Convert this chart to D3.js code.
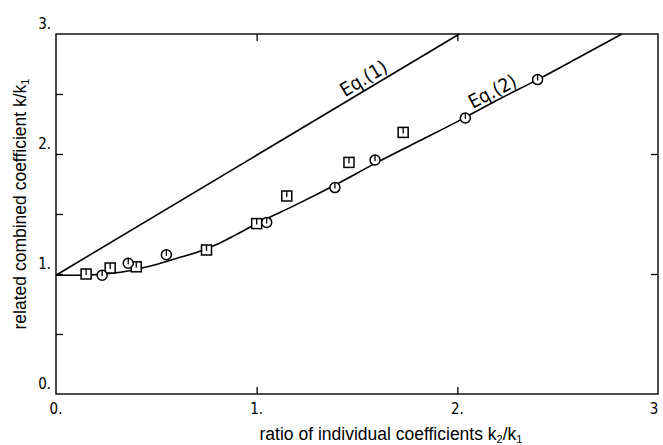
<!DOCTYPE html>
<html>
<head>
<meta charset="utf-8">
<script src="https://cdn.jsdelivr.net/npm/d3@7"></script>
<style>
  html, body { margin: 0; padding: 0; background: #fff; }
  svg { display: block; }
  .tick-label { font-family: "Liberation Sans Narrow", "DejaVu Sans Condensed", "Liberation Sans", sans-serif; font-size: 15px; fill: #000; }
  .title { font-family: "Liberation Sans", Arial, sans-serif; font-size: 17.5px; fill: #000; }
  .eq { font-family: "Liberation Sans Narrow", "DejaVu Sans Condensed", "Liberation Sans", sans-serif; font-size: 19px; fill: #000; }
</style>
</head>
<body>
<svg id="chart" width="663" height="445"></svg>
<script>
// ---- data ----
const xTickValues = [0, 1, 2, 3];
const xTickLabels = ["0.", "1.", "2.", "3"];
const yTickValues = [0, 1, 2, 3];
const yTickLabels = ["0.", "1.", "2.", "3."];
const yMinorTicks = [0.5, 1.5, 2.5];

// Eq.(1) straight line
const eq1X = [0, 2.01];
const eq1Y = [0.99, 3.0];

// Eq.(2) curve
const eq2X = [0, 0.1, 0.2, 0.3, 0.4, 0.5, 0.6, 0.7, 0.8, 0.9, 1.0, 1.2, 1.4, 1.6, 1.8, 2.0, 2.2, 2.4, 2.6, 2.82];
const eq2Y = [0.99, 0.99, 0.995, 1.01, 1.04, 1.08, 1.13, 1.18, 1.245, 1.33, 1.42, 1.58, 1.75, 1.93, 2.10, 2.27, 2.45, 2.62, 2.80, 3.0];

// measured points: squares
const squareX = [0.15, 0.27, 0.40, 0.75, 1.00, 1.15, 1.46, 1.73];
const squareY = [1.00, 1.05, 1.06, 1.20, 1.42, 1.65, 1.93, 2.18];
// measured points: circles
const circleX = [0.23, 0.36, 0.55, 1.05, 1.39, 1.59, 2.04, 2.40];
const circleY = [0.99, 1.09, 1.16, 1.43, 1.72, 1.95, 2.30, 2.62];

// ---- drawing ----
const svg = d3.select("#chart");
const mLeft = 56, mRight = 658, mTop = 34, mBottom = 394;
const x = d3.scaleLinear().domain([0, 3]).range([mLeft, mRight]);
const y = d3.scaleLinear().domain([0, 3]).range([mBottom, mTop]);

const ink = "#000";

// frame
svg.append("rect")
  .attr("x", mLeft).attr("y", mTop)
  .attr("width", mRight - mLeft).attr("height", mBottom - mTop)
  .attr("fill", "none").attr("stroke", ink).attr("stroke-width", 1.4);

// axes via d3 (ticks inward, no domain path)
const tickLen = 7;
const gBottom = svg.append("g").attr("transform", `translate(0,${mBottom})`)
  .call(d3.axisBottom(x).tickValues([1, 2]).tickSize(-tickLen).tickFormat(""));
const gTop = svg.append("g").attr("transform", `translate(0,${mTop})`)
  .call(d3.axisTop(x).tickValues([1, 2]).tickSize(-tickLen).tickFormat(""));
const gLeft = svg.append("g").attr("transform", `translate(${mLeft},0)`)
  .call(d3.axisLeft(y).tickValues([1, 2].concat(yMinorTicks)).tickSize(-tickLen).tickFormat(""));
const gRight = svg.append("g").attr("transform", `translate(${mRight},0)`)
  .call(d3.axisRight(y).tickValues([1, 2]).tickSize(-tickLen).tickFormat(""));
[gBottom, gTop, gLeft, gRight].forEach(g => {
  g.select(".domain").remove();
  g.selectAll("line").attr("stroke", ink).attr("stroke-width", 1.3);
});

// tick labels
svg.append("g").selectAll("text").data(xTickValues).join("text")
  .attr("class", "tick-label")
  .attr("x", (d, i) => x(d) + (i === xTickValues.length - 1 ? -4 : 0))
  .attr("y", mBottom + 20)
  .attr("text-anchor", "middle")
  .text((d, i) => xTickLabels[i]);

svg.append("g").selectAll("text").data(yTickValues).join("text")
  .attr("class", "tick-label")
  .attr("x", mLeft - 5)
  .attr("y", d => y(d) - 5)
  .attr("text-anchor", "end")
  .text((d, i) => yTickLabels[i]);

// axis titles
svg.append("text").attr("class", "title")
  .attr("x", 391).attr("y", 440)
  .attr("text-anchor", "middle")
  .html('ratio of individual coefficients k<tspan font-size="11" dy="3">2</tspan><tspan dy="-3">/k</tspan><tspan font-size="11" dy="3">1</tspan>');

svg.append("text").attr("class", "title")
  .attr("transform", "translate(26,204) rotate(-90)")
  .attr("text-anchor", "middle")
  .html('related combined coefficient k/k<tspan font-size="11" dy="3">1</tspan>');

// lines
const line = d3.line().x(d => x(d[0])).y(d => y(d[1]));
const lineCurve = d3.line().x(d => x(d[0])).y(d => y(d[1])).curve(d3.curveMonotoneX);

svg.append("path")
  .datum(eq1X.map((v, i) => [v, eq1Y[i]]))
  .attr("d", line).attr("fill", "none").attr("stroke", ink).attr("stroke-width", 1.6);

svg.append("path")
  .datum(eq2X.map((v, i) => [v, eq2Y[i]]))
  .attr("d", lineCurve).attr("fill", "none").attr("stroke", ink).attr("stroke-width", 1.6);

// curve labels
function slopeAngle(x1, y1, x2, y2) {
  return Math.atan2(y(y2) - y(y1), x(x2) - x(x1)) * 180 / Math.PI;
}
const a1 = slopeAngle(eq1X[0], eq1Y[0], eq1X[1], eq1Y[1]);
svg.append("text").attr("class", "eq")
  .attr("transform", `translate(${x(1.55)},${y(2.55) - 4}) rotate(${a1})`)
  .attr("text-anchor", "middle")
  .text("Eq.(1)");

const a2 = slopeAngle(2.0, 2.27, 2.4, 2.62);
svg.append("text").attr("class", "eq")
  .attr("transform", `translate(${x(2.19)},${y(2.44) - 4}) rotate(${a2})`)
  .attr("text-anchor", "middle")
  .text("Eq.(2)");

// markers
const ms = 10;
const sq = svg.append("g").selectAll("g").data(squareX.map((v, i) => [v, squareY[i]])).join("g")
  .attr("transform", d => `translate(${x(d[0])},${y(d[1])})`);
sq.append("rect").attr("x", -ms / 2).attr("y", -ms / 2).attr("width", ms).attr("height", ms)
  .attr("fill", "#fff").attr("stroke", ink).attr("stroke-width", 1.5);
sq.append("line").attr("x1", 0).attr("x2", 0).attr("y1", -ms / 2).attr("y2", 1)
  .attr("stroke", ink).attr("stroke-width", 1.3);

const ci = svg.append("g").selectAll("g").data(circleX.map((v, i) => [v, circleY[i]])).join("g")
  .attr("transform", d => `translate(${x(d[0])},${y(d[1])})`);
ci.append("circle").attr("r", ms / 2)
  .attr("fill", "#fff").attr("stroke", ink).attr("stroke-width", 1.5);
ci.append("line").attr("x1", 0).attr("x2", 0).attr("y1", -ms / 2).attr("y2", 1)
  .attr("stroke", ink).attr("stroke-width", 1.3);
</script>
</body>
</html>
